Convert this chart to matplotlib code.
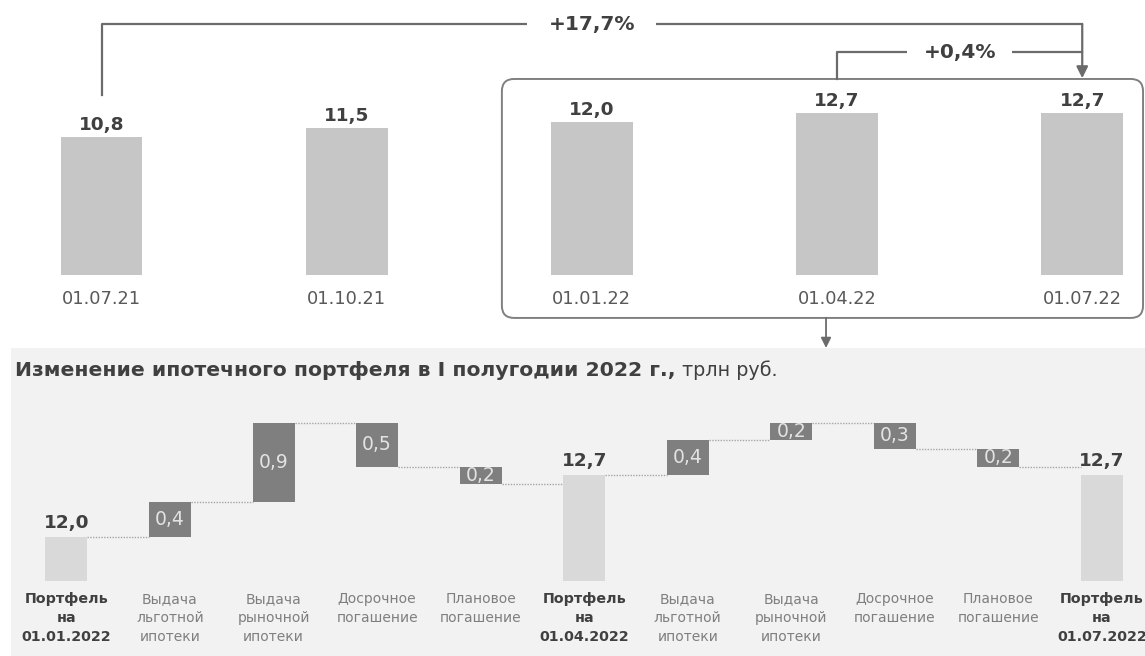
import numpy as np
import matplotlib.pyplot as plt
from matplotlib.patches import FancyBboxPatch

plt.rcParams['font.family'] = 'DejaVu Sans'

# mortgage portfolio by date, trln rub
dates = ['01.07.21', '01.10.21', '01.01.22', '01.04.22', '01.07.22']
portfolio = [10.8, 11.5, 12.0, 12.7, 12.7]
growth_year = '+17,7%'
growth_quarter = '+0,4%'

# H1 2022 portfolio change (waterfall)
wf_labels = ['Портфель\nна\n01.01.2022', 'Выдача\nльготной\nипотеки', 'Выдача\nрыночной\nипотеки',
             'Досрочное\nпогашение', 'Плановое\nпогашение', 'Портфель\nна\n01.04.2022',
             'Выдача\nльготной\nипотеки', 'Выдача\nрыночной\nипотеки', 'Досрочное\nпогашение',
             'Плановое\nпогашение', 'Портфель\nна\n01.07.2022']
wf_values = [12.0, 0.4, 0.9, -0.5, -0.2, 12.7, 0.4, 0.2, -0.3, -0.2, 12.7]
wf_total = [True, False, False, False, False, True, False, False, False, False, True]
wf_floor = 11.5

dark = '#404040'
mid = '#595959'
line_c = '#6b6b6b'

def fmt(v):
    return ('%.1f' % abs(v)).replace('.', ',')

fig = plt.figure(figsize=(11.45, 6.56), dpi=100)

# ---- top: quarterly bars ----
ax = fig.add_axes([0, 1 - 275/656, 1, 275/656])
ax.set_zorder(2)
x = np.arange(len(dates))
ax.bar(x, portfolio, width=0.333, color='#c6c6c6')
ax.set_xlim(-0.414, 4.256)
ax.set_ylim(0, 21.52)
ax.axis('off')

for xi, v, d in zip(x, portfolio, dates):
    ax.annotate(fmt(v), xy=(xi, v), xytext=(0, 7), textcoords='offset pixels',
                ha='center', va='baseline', fontsize=13.3, fontweight='bold', color=dark)
    ax.annotate(d, xy=(xi, 0), xytext=(0, -29), textcoords='offset pixels',
                ha='center', va='baseline', fontsize=12.8, color=mid)

# year-on-year bracket
y_big = 19.64
ax.plot([0, 0, 4], [14.08, y_big, y_big], color=line_c, lw=1.6, clip_on=False)
ax.annotate('', xy=(4, 15.4), xytext=(4, y_big),
            arrowprops=dict(arrowstyle='-|>', color=line_c, lw=1.6, mutation_scale=17,
                            shrinkA=0, shrinkB=0))
ax.text(2, y_big, growth_year, ha='center', va='center', fontsize=14.5, fontweight='bold',
        color=dark, bbox=dict(boxstyle='square,pad=1.05', fc='white', ec='none'))

# quarter-on-quarter bracket
y_small = 17.45
ax.plot([3, 3, 4], [15.34, y_small, y_small], color=line_c, lw=1.6, clip_on=False)
ax.text(3.5, y_small, growth_quarter, ha='center', va='center', fontsize=14.5, fontweight='bold',
        color=dark, bbox=dict(boxstyle='square,pad=0.8', fc='white', ec='none'))

# frame around 2022 dates
frame = FancyBboxPatch((1.633, -3.36), 4.248 - 1.633, 15.34 + 3.36,
                       boxstyle='round,pad=0,rounding_size=0.05', mutation_aspect=19.19,
                       ec='#808080', fc='none', lw=1.4, clip_on=False)
ax.add_patch(frame)
ax.annotate('', xy=(2.955, -5.71), xytext=(2.955, -3.36),
            arrowprops=dict(arrowstyle='-|>', color=line_c, lw=1.3, mutation_scale=15,
                            shrinkA=0, shrinkB=0), annotation_clip=False)

# ---- bottom: waterfall ----
axw = fig.add_axes([11/1145, 0, 1134/1145, 308/656], facecolor='#f2f2f2')
for s in axw.spines.values():
    s.set_visible(False)
axw.set_xticks([])
axw.set_yticks([])
axw.set_xlim(-0.535, 10.415)
axw.set_ylim(10.648, 14.148)

bw = 0.405
level = 0
ends = []
for i, (v, tot) in enumerate(zip(wf_values, wf_total)):
    if tot:
        axw.bar(i, v - wf_floor, bottom=wf_floor, width=bw, color='#d9d9d9', zorder=2)
        axw.annotate(fmt(v), xy=(i, v), xytext=(0, 9), textcoords='offset pixels',
                     ha='center', va='baseline', fontsize=13.3, fontweight='bold', color=dark)
        level = v
    else:
        bottom = level if v > 0 else level + v
        axw.bar(i, abs(v), bottom=bottom, width=bw, color='#7f7f7f', zorder=2)
        axw.text(i, bottom + abs(v) / 2, fmt(v), ha='center', va='center',
                 fontsize=13.5, color='#e3e3e3', zorder=3)
        level = level + v
    ends.append(level)

# dotted connectors between neighbouring bars
for i in range(len(wf_values) - 1):
    axw.plot([i + bw/2, i + 1 - bw/2], [ends[i], ends[i]], color='#a6a6a6',
             lw=1.0, ls=(0, (1, 1)), zorder=1)

for i, (lab, tot) in enumerate(zip(wf_labels, wf_total)):
    axw.annotate(lab, xy=(i, wf_floor), xytext=(0, -11), textcoords='offset pixels',
                 ha='center', va='top', fontsize=10.3 if tot else 10, linespacing=1.45,
                 fontweight='bold' if tot else 'normal', color=dark if tot else '#7f7f7f')

title = axw.text(0.0035, 0.909, 'Изменение ипотечного портфеля в I полугодии 2022 г.,',
                 transform=axw.transAxes, fontsize=14.7, fontweight='bold', color=dark,
                 va='baseline')
axw.annotate(' трлн руб.', xy=(1, 0), xycoords=title, va='bottom', ha='left',
             fontsize=13.8, color=dark)

fig.savefig('out.png', dpi=100)
